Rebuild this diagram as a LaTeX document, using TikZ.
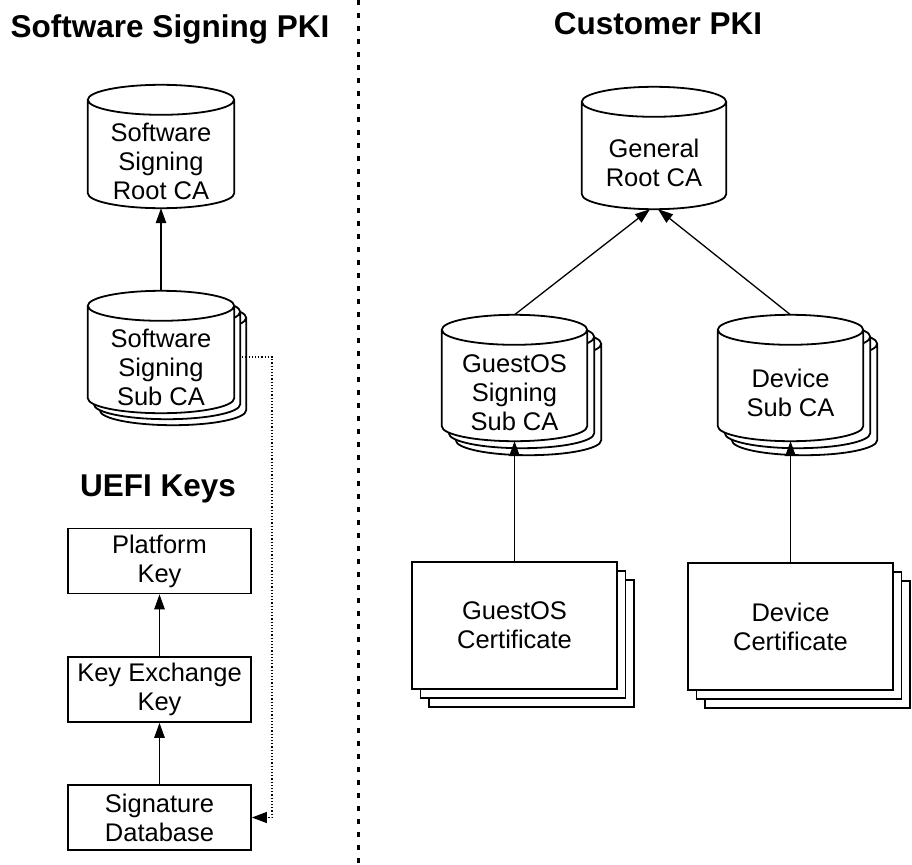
\documentclass[tikz,border=0pt]{standalone}
\usepackage{fontspec}
\setmainfont{Liberation Sans}
\usetikzlibrary{arrows.meta,shadows,backgrounds,calc}
\tikzset{
  txt/.style={font=\fontsize{25.5}{29}\selectfont, align=center, inner sep=0pt},
  ttl/.style={font=\fontsize{31.5}{36}\selectfont\bfseries, anchor=base, inner sep=0pt},
  keybox/.style={txt, draw, line width=1.8pt, minimum width=183pt, minimum height=65pt},
  certbox/.style={txt, draw, fill=white, line width=1.8pt, minimum width=205pt, minimum height=127pt,
     double copy shadow={shadow xshift=8.5pt, shadow yshift=-9pt, draw=black, fill=white, line width=1.8pt}},
  cylbody/.style={txt, minimum width=145pt, minimum height=93pt},
  cyl/.style={draw, fill=white, line width=1.8pt},
  arr/.style={line width=1.3pt, -{Triangle[length=15pt,width=10.5pt]}},
  dotarr/.style={line width=1.2pt, dotted, -{Triangle[length=15pt,width=11pt]}},
  divider/.style={line width=3pt, dash pattern=on 5pt off 8pt},
}
% #1 = x offset, #2 = y offset, #3 = node name
\newcommand\cylpath[3]{%
  \draw[cyl] let \p1=(#3.north west), \p2=(#3.south east), \n1={(\x2-\x1)/2} in
    (\x1+#1,\y1+15pt+#2) -- (\x1+#1,\y2+15pt+#2) arc[start angle=180,end angle=360,x radius=\n1,y radius=15pt]
    -- (\x2+#1,\y1+15pt+#2) arc[start angle=0,end angle=180,x radius=\n1,y radius=15pt] -- cycle
    (\x1+#1,\y1+15pt+#2) arc[start angle=180,end angle=360,x radius=\n1,y radius=15pt];
}
\begin{document}
\begin{tikzpicture}[x=1pt,y=1pt]
\useasboundingbox (0,0) rectangle (912,-864);

% titles
\node[ttl] (t1) at (170,-38) {Software Signing PKI};
\node[ttl] (t2) at (658,-35) {Customer PKI};
\node[ttl] (t3) at (158,-496) {UEFI Keys};

% divider
\coordinate (dtop) at (358,0);
\coordinate (dbot) at (358,-864);
\draw[divider] (dtop) -- (dbot);

% cylinder nodes (body area)
\node[cylbody, minimum width=146pt] (root) at (161,-161.5) {Software\\Signing\\Root CA};
\node[cylbody, minimum width=146pt, minimum height=92pt] (subca) at (161,-367) {Software\\Signing\\Sub CA};
\node[cylbody, minimum width=144pt, minimum height=92pt] (groot) at (654,-163) {General\\Root CA};
\node[cylbody, minimum height=96pt] (gsub) at (514.5,-393) {GuestOS\\Signing\\Sub CA};
\node[cylbody, minimum height=96pt] (dsub) at (790.5,-393) {Device\\Sub CA};

\begin{scope}[on background layer]
  \cylpath{0pt}{0pt}{root}
  \cylpath{0pt}{0pt}{groot}
  \cylpath{12pt}{-12pt}{subca}
  \cylpath{6pt}{-6pt}{subca}
  \cylpath{0pt}{0pt}{subca}
  \cylpath{14pt}{-14pt}{gsub}
  \cylpath{7pt}{-7pt}{gsub}
  \cylpath{0pt}{0pt}{gsub}
  \cylpath{14pt}{-14pt}{dsub}
  \cylpath{7pt}{-7pt}{dsub}
  \cylpath{0pt}{0pt}{dsub}
\end{scope}

% UEFI keys
\node[keybox] (pk) at (159.5,-561) {Platform\\Key};
\node[keybox] (kek) at (159.5,-689.5) {Key Exchange\\Key};
\node[keybox] (sd) at (159.5,-817.5) {Signature\\Database};

% certificates
\node[certbox] (gcert) at (514.5,-625.5) {GuestOS\\Certificate};
\node[certbox] (dcert) at (790.5,-626.5) {Device\\Certificate};

% connectors
\draw[arr] ([yshift=30pt]subca.north) -- (root.south);
\draw[arr] ([yshift=30pt]gsub.north) -- ([xshift=-4pt]groot.south);
\draw[arr] ([yshift=30pt]dsub.north) -- ([xshift=4pt]groot.south);
\draw[arr] (gcert.north) -- (gsub.south);
\draw[arr] (dcert.north) -- (dsub.south);
\draw[arr] (kek.north) -- (pk.south);
\draw[arr] (sd.north) -- (kek.south);

\coordinate (dstart) at ([xshift=8pt,yshift=10pt]subca.east);
\coordinate (dturn) at (272,-357);
\draw[dotarr] (dstart) -- (dturn) |- (sd.east);
\end{tikzpicture}
\end{document}
